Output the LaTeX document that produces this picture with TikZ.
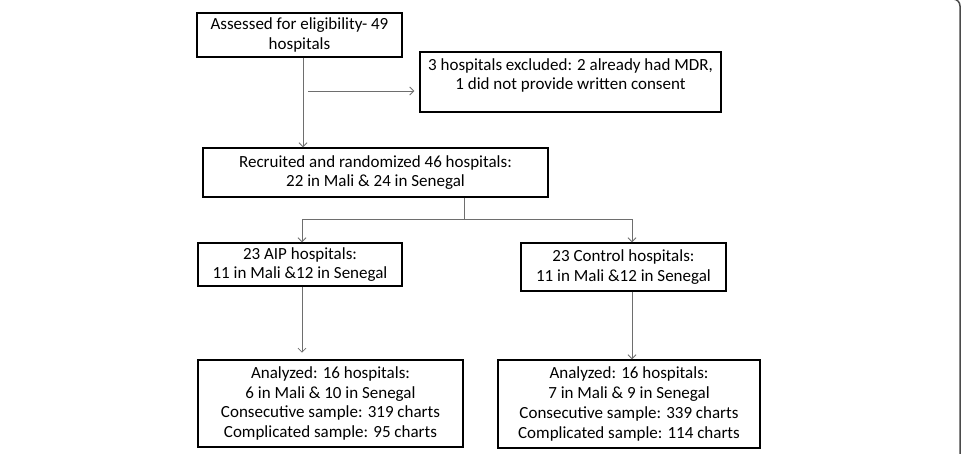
\documentclass[tikz,border=0pt]{standalone}
\usepackage{fontspec}
\setmainfont{Carlito}
\usetikzlibrary{arrows.meta}
\definecolor{linegray}{HTML}{6E6E6E}
\definecolor{framegray}{HTML}{4A4A4A}

\begin{document}
\begin{tikzpicture}[x=1pt, y=-1pt,
  block/.style={rectangle, draw=black, line width=1.4pt, align=center, inner sep=2pt, font=\fontsize{17}{19.8}\selectfont},
  arrow/.style={-{Straight Barb[length=4pt, width=8pt]}, draw=linegray, line width=0.8pt},
  link/.style={draw=linegray, line width=0.8pt}]
  \useasboundingbox (0,0) rectangle (967,454);
  % outer frame, only its right side shows
  \draw[framegray, line width=1.5pt, rounded corners=7pt] (-20,-1) -- (960,-1) -- (960,480);
  % boxes
  \node[block, minimum width=205pt, minimum height=44pt] (assess) at (299.5,35) {Assessed for eligibility- 49\\hospitals};
  \node[block, minimum width=301pt, minimum height=60pt] (excl) at (570.5,82) {\raisebox{6pt}[\height][\depth]{\begin{tabular}{@{}c@{}}3 hospitals excluded: 2 already had MDR,\\1 did not provide written consent\end{tabular}}};
  \node[block, minimum width=345pt, minimum height=49pt] (recruit) at (375.5,172.5) {Recruited and randomized 46 hospitals:\\22 in Mali \& 24 in Senegal};
  \node[block, minimum width=204pt, minimum height=43pt] (aip) at (300,264.5) {23 AIP hospitals:\\11 in Mali \&12 in Senegal};
  \node[block, minimum width=205pt, minimum height=48pt] (control) at (623.5,267) {23 Control hospitals:\\11 in Mali \&12 in Senegal};
  \node[block, minimum width=265pt, minimum height=87pt] (analyzedaip) at (330.5,403.5) {Analyzed: 16 hospitals:\\6 in Mali \& 10 in Senegal\\Consecutive sample: 319 charts\\Complicated sample: 95 charts};
  \node[block, minimum width=262pt, minimum height=88pt] (analyzedctl) at (629,404) {Analyzed: 16 hospitals:\\7 in Mali \& 9 in Senegal\\Consecutive sample: 339 charts\\Complicated sample: 114 charts};
  % connectors
  \coordinate (exclsplit) at (308,91);
  \coordinate (fork) at (464,219);
  \draw[arrow] ([xshift=3.5pt]assess.south) -- ([xshift=3.5pt]assess.south |- recruit.north);
  \draw[arrow] (exclsplit) -- ([xshift=-5pt]exclsplit -| excl.west);
  \draw[link] (fork |- recruit.south) -- (fork);
  \draw[arrow] (fork) -| ([xshift=2pt]aip.north);
  \draw[arrow] (fork) -| ([xshift=8.5pt]control.north);
  \draw[arrow] ([xshift=2pt]aip.south) -- ++(0,66);
  \draw[arrow] ([xshift=8.5pt]control.south) -- ([xshift=8.5pt]control.south |- analyzedctl.north);
\end{tikzpicture}
\end{document}
